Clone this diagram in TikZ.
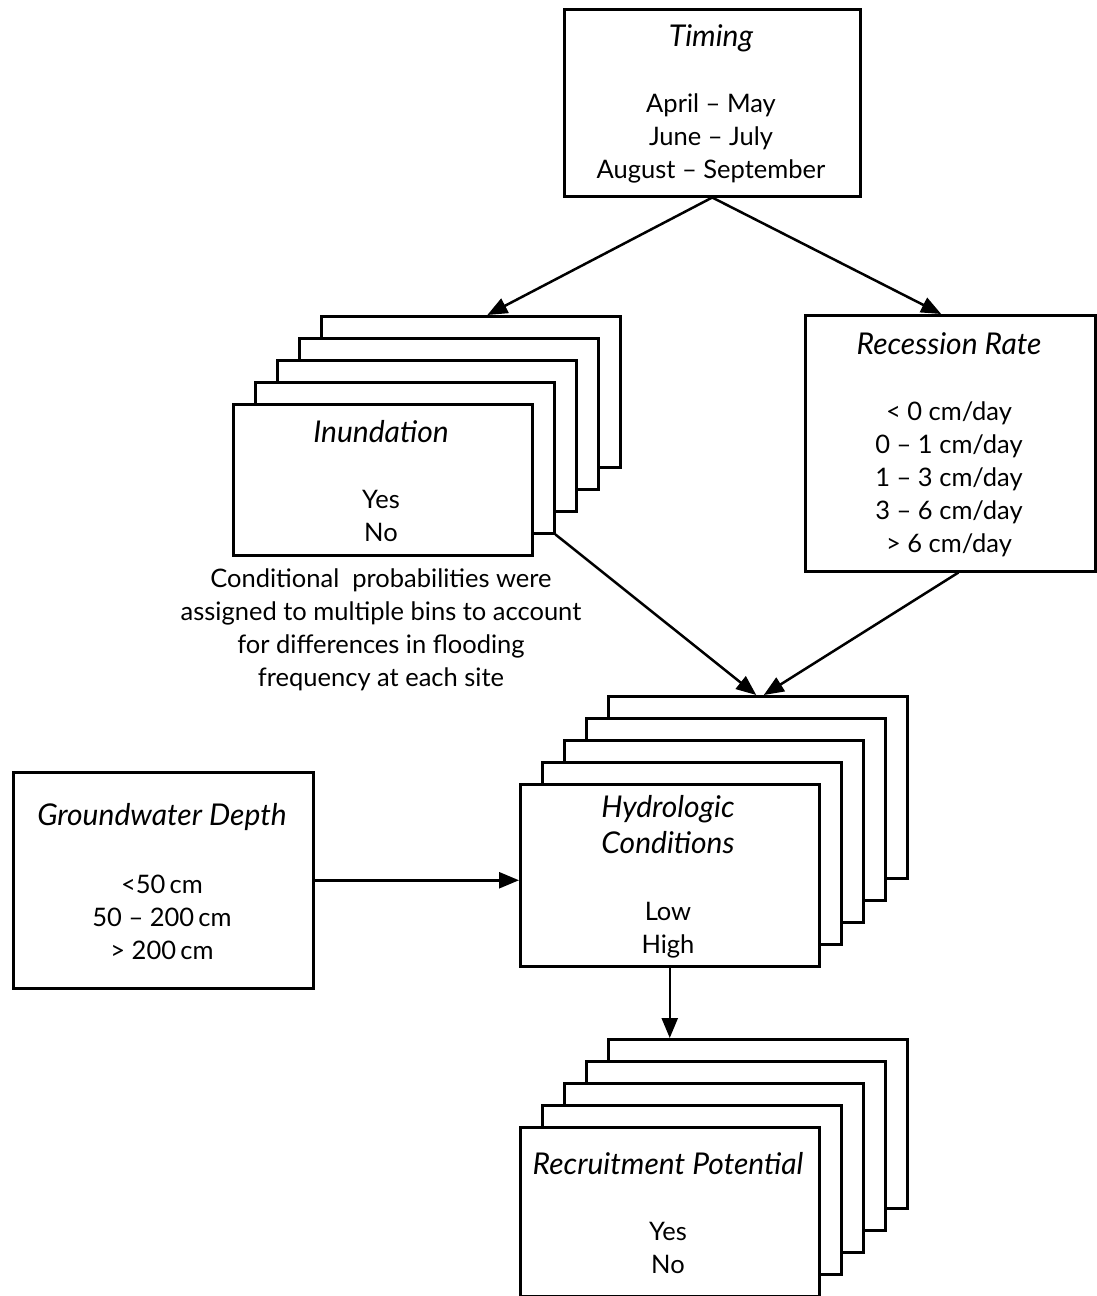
\documentclass[tikz,border=0pt]{standalone}
\usepackage{fontspec}
\setmainfont{Lato}
\usetikzlibrary{arrows.meta,calc}
\newcommand{\ttl}[1]{{\fontsize{30}{36}\selectfont\itshape #1}}
\begin{document}
\begin{tikzpicture}[x=1pt,y=-1pt,
  line width=2.5pt,
  box/.style={draw,fill=white,rectangle,inner sep=0pt,anchor=north west},
  txt/.style={align=center,inner sep=0pt,font=\fontsize{25.5}{33}\selectfont},
  arr/.style={-{Triangle[length=20pt,width=16pt]}},
]
\useasboundingbox (0,0) rectangle (1097,1296);
% single boxes
\node[box,minimum width=296pt,minimum height=187pt] (timing) at (563,8) {};
\node[box,minimum width=290pt,minimum height=256pt] (reces) at (804,314) {};
\node[box,minimum width=300pt,minimum height=216pt] (gw) at (12,771) {};
% stacks
\foreach \k in {4,3,2,1,0}{
  \node[box,minimum width=299pt,minimum height=151pt] (inund\k) at (232+22*\k,403-22*\k) {};
  \node[box,minimum width=299pt,minimum height=182pt] (hydro\k) at (519+22*\k,783-22*\k) {};
  \node[box,minimum width=299pt,minimum height=169pt] (recr\k) at (519+22*\k,1126-22*\k) {};
}
% texts
\node[txt] (timingT) at (711,104) {\ttl{Timing}\\[33pt]April – May\\June – July\\August – September};
\node[txt] (recesT) at (949,445) {\ttl{Recession Rate}\\[33pt]< 0 cm/day\\0 – 1 cm/day\\1 – 3 cm/day\\3 – 6 cm/day\\> 6 cm/day};
\node[txt] (gwT) at (162,882) {\ttl{Groundwater Depth}\\[35pt]<50\,cm\\50 – 200\,cm\\> 200\,cm};
\node[txt] (inundT) at (381,481) {\ttl{Inundation}\\[33pt]Yes\\No};
\node[txt] (hydroT) at (668,877) {\ttl{Hydrologic}\\[3pt]\ttl{Conditions}\\[34pt]Low\\High};
\node[txt] (recrT) at (668,1213) {\ttl{Recruitment Potential}\\[33pt]Yes\\No};
\node[txt] (note) at (381,630) {Conditional\ \ probabilities were\\assigned to multiple bins to account\\for differences in flooding\\frequency at each site};
% connectors
\draw[arr] (timing.south) -- ($(inund4.north west)!0.555!(inund4.north east)$);
\draw[arr] (timing.south) -- ($(reces.north west)!0.469!(reces.north east)$);
\draw[arr] (inund1.south east) -- ($(hydro4.north west)!0.495!(hydro4.north east)$);
\draw[arr] ($(reces.south west)!0.528!(reces.south east)$) -- ($(hydro4.north west)!0.52!(hydro4.north east)$);
\draw[arr] (gw.east) -- (gw.east -| hydro0.west);
\draw[arr] (hydro0.south) -- (hydro0.south |- recr4.north);
\end{tikzpicture}
\end{document}
